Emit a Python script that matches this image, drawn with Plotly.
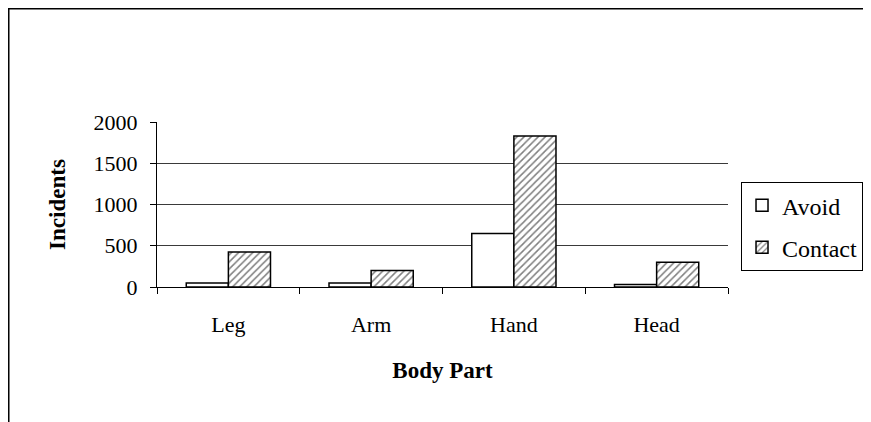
import plotly.graph_objects as go

body_parts = ["Leg", "Arm", "Hand", "Head"]
avoid = [50, 50, 650, 30]
contact = [425, 200, 1830, 300]

FONT = "Liberation Serif, Times New Roman, serif"

fig = go.Figure()
fig.add_trace(go.Bar(
    x=body_parts, y=avoid, name="Avoid", legendgroup="avoid",
    marker=dict(color="white", line=dict(color="black", width=1.5)),
))
fig.add_trace(go.Bar(
    x=body_parts, y=contact, name="Contact", legendgroup="contact",
    marker=dict(
        color="white",
        line=dict(color="black", width=1.5),
        pattern=dict(shape="/", fgcolor="black", bgcolor="white", size=5, solidity=0.3),
    ),
))

# chart-area frame (runs off the right and bottom edges like the original)
fig.add_shape(type="rect", xref="paper", yref="paper",
              x0=-0.2596, x1=1.6, y0=-1.0, y1=1.6864,
              line=dict(color="black", width=1.5), layer="below")

fig.update_xaxes(
    showline=True, linecolor="black", linewidth=1,
    ticks="outside", tickson="boundaries", ticklen=6, tickcolor="black",
    ticklabelstandoff=18,
    title=dict(text="<b>Body Part</b>", standoff=25, font=dict(size=23)),
)
fig.update_yaxes(
    range=[0, 2000], dtick=500,
    showline=True, linecolor="black", linewidth=1,
    ticks="outside", ticklen=6, tickcolor="black",
    showgrid=True, gridcolor="#3a3a3a", gridwidth=1,
    zeroline=False,
    ticklabelstandoff=8,
    title=dict(text="<b>Incidents</b>", standoff=21, font=dict(size=23)),
)
fig.update_layout(
    # page body adds an 8px margin, so the figure is sized/positioned to compensate
    width=863, height=414,
    margin=dict(l=149, r=143, t=114, b=135, autoexpand=False),
    paper_bgcolor="white", plot_bgcolor="white",
    font=dict(family=FONT, size=22, color="black"),
    barmode="group", bargap=0.41, bargroupgap=0,
    legend=dict(x=1.0228, y=0.636, xanchor="left", yanchor="top",
                bordercolor="black", borderwidth=1, bgcolor="white",
                font=dict(size=24), tracegroupgap=8, itemwidth=30),
    showlegend=True,
)

fig.write_html("out.html")
